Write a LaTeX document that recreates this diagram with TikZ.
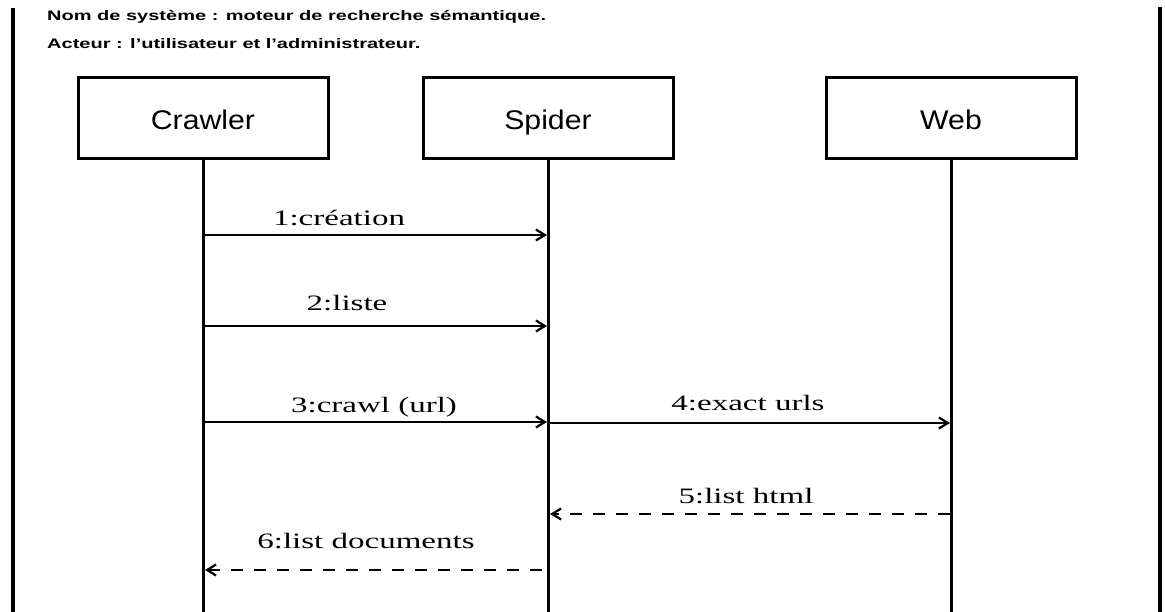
\documentclass[tikz,border=0pt]{standalone}
\usepackage{fontspec}
\setmainfont{Liberation Serif}
\setsansfont{Liberation Sans}
% widened faces for the heading, the participant names and the message labels
\newfontfamily\headfont[FakeStretch=1.45]{Liberation Sans}
\newfontfamily\actorfont[FakeStretch=1.12]{Liberation Sans}
\newfontfamily\msgfont[FakeStretch=1.5]{Liberation Serif}
\usetikzlibrary{arrows.meta}

\begin{document}
\begin{tikzpicture}[x=1pt,y=-1pt,
  actor/.style={draw,line width=3pt,minimum width=250pt,minimum height=81pt,
    inner sep=0pt,text height=23pt,text depth=0pt,
    font=\actorfont\fontsize{27}{30}\selectfont},
  lifeline/.style={line width=3pt},
  frame/.style={line width=3.2pt},
  msg/.style={line width=2.2pt,-{Straight Barb[length=9pt,width=11pt,line width=2.2pt]}},
  reply/.style={msg,dash pattern=on 12pt off 11pt},
  msglabel/.style={anchor=base,inner sep=0pt,font=\msgfont\fontsize{22}{25}\selectfont},
  title/.style={anchor=base west,inner sep=0pt,font=\headfont\bfseries\fontsize{13.8}{16}\selectfont}]
  \useasboundingbox (0,0) rectangle (1165,612);

  % side rules of the sheet
  \coordinate (lt) at (13,8);  \coordinate (lb) at (13,612);
  \coordinate (rt) at (1160,7); \coordinate (rb) at (1160,612);
  \draw[frame] (lt) -- (lb);
  \draw[frame] (rt) -- (rb);

  % heading
  \node[title] (sys) at (47,21) {Nom de système : moteur de recherche sémantique.};
  \node[title] (act) at (47,49) {Acteur : l’utilisateur et l’administrateur.};

  % participants
  \node[actor] (crawler) at (203,118.5) {Crawler};
  \node[actor] (spider)  at (548,118.5) {Spider};
  \node[actor] (web)     at (951,118.5) {Web};

  % lifelines
  \coordinate (crawlerEnd) at (203,612);
  \coordinate (spiderEnd)  at (548,612);
  \coordinate (webEnd)     at (951,612);
  \draw[lifeline] (crawler.south) -- (crawlerEnd);
  \draw[lifeline] (spider.south)  -- (spiderEnd);
  \draw[lifeline] (web.south)     -- (webEnd);

  % message anchor points on the lifelines
  \coordinate (c1) at (203,235); \coordinate (s1) at (547,235);
  \coordinate (c2) at (203,326); \coordinate (s2) at (547,326);
  \coordinate (c3) at (203,422); \coordinate (s3) at (547,422);
  \coordinate (s4) at (548,423); \coordinate (w4) at (950,423);
  \coordinate (w5) at (950,514); \coordinate (s5) at (550,514);
  \coordinate (s6) at (542,570); \coordinate (c6) at (205,570);

  % messages
  \draw[msg] (c1) -- (s1);
  \node[msglabel] (l1) at (339,226) {1:création};
  \draw[msg] (c2) -- (s2);
  \node[msglabel] (l2) at (347,311) {2:liste};
  \draw[msg] (c3) -- (s3);
  \node[msglabel] (l3) at (374,412) {3:crawl (url)};
  \draw[msg] (s4) -- (w4);
  \node[msglabel] (l4) at (748,410) {4:exact urls};
  \draw[reply] (w5) -- (s5);
  \node[msglabel] (l5) at (746,503) {5:list html};
  \draw[reply] (s6) -- (c6);
  \node[msglabel] (l6) at (366,548) {6:list documents};
\end{tikzpicture}
\end{document}
